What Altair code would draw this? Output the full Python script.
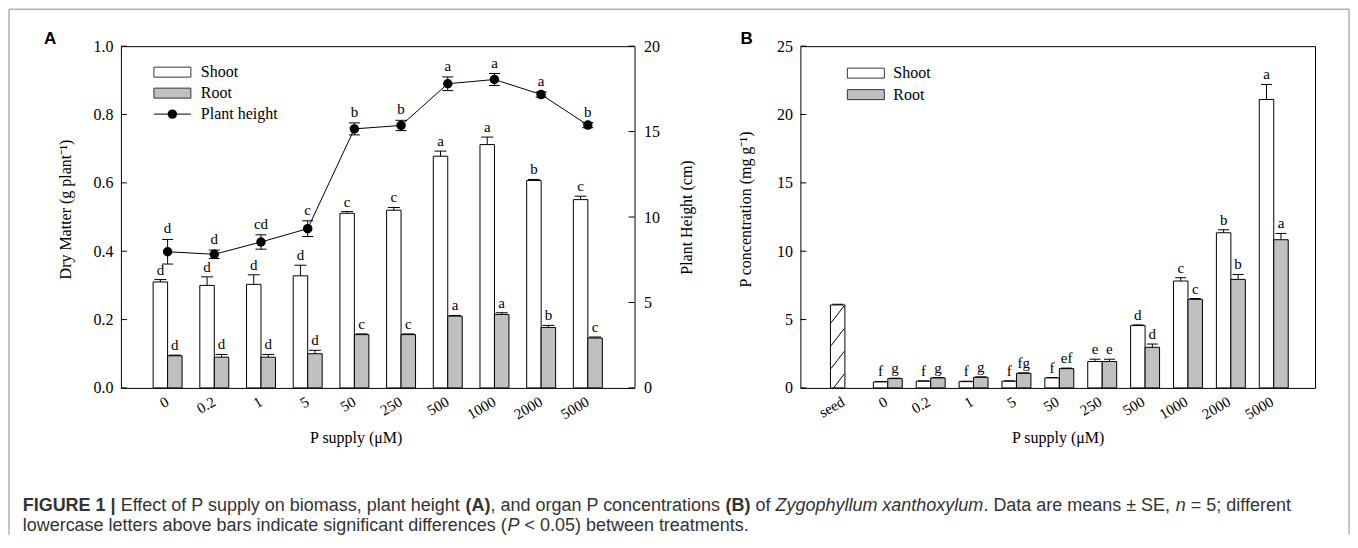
import altair as alt
import pandas as pd

# ---------------- data ----------------
cats_a = ["0", "0.2", "1", "5", "50", "250", "500", "1000", "2000", "5000"]
cats_b = ["seed"] + cats_a
parts = ["Shoot", "Root"]

# Panel A: dry matter (g plant-1)
shoot_dm = [0.310, 0.300, 0.303, 0.328, 0.511, 0.520, 0.678, 0.712, 0.607, 0.551]
shoot_dm_err = [0.007, 0.025, 0.028, 0.031, 0.005, 0.008, 0.015, 0.022, 0.003, 0.010]
shoot_dm_let = ["d", "d", "d", "d", "c", "c", "a", "a", "b", "c"]
root_dm = [0.094, 0.090, 0.090, 0.100, 0.156, 0.156, 0.210, 0.215, 0.177, 0.146]
root_dm_err = [0.002, 0.008, 0.008, 0.010, 0.002, 0.002, 0.002, 0.005, 0.006, 0.003]
root_dm_let = ["d", "d", "d", "d", "c", "c", "a", "a", "b", "c"]

# Panel A: plant height (cm)
height = [7.97, 7.82, 8.54, 9.32, 15.16, 15.36, 17.80, 18.05, 17.17, 15.38]
height_err = [0.72, 0.25, 0.42, 0.46, 0.35, 0.30, 0.40, 0.35, 0.15, 0.15]
height_let = ["d", "d", "cd", "c", "b", "b", "a", "a", "a", "b"]

# Panel B: P concentration (mg g-1)
seed_p = 6.07
seed_p_err = 0.05
shoot_p = [0.44, 0.49, 0.46, 0.49, 0.73, 1.93, 4.56, 7.82, 11.35, 21.10]
shoot_p_err = [0.03, 0.03, 0.03, 0.03, 0.03, 0.17, 0.05, 0.24, 0.22, 1.10]
shoot_p_let = ["f", "f", "f", "f", "f", "e", "d", "c", "b", "a"]
root_p = [0.68, 0.73, 0.78, 1.07, 1.41, 1.93, 2.97, 6.48, 7.94, 10.84]
root_p_err = [0.03, 0.03, 0.03, 0.03, 0.04, 0.17, 0.24, 0.06, 0.36, 0.46]
root_p_let = ["g", "g", "g", "fg", "ef", "e", "d", "c", "b", "a"]

# axis tick values
ticks_dm = [0.0, 0.2, 0.4, 0.6, 0.8, 1.0]
ticks_h = [0, 5, 10, 15, 20]
ticks_p = [0, 5, 10, 15, 20, 25]
seed_hatch = [0.39, 2.05, 3.72, 5.39]

legend_a = ["Shoot", "Root", "Plant height"]
legend_b = ["Shoot", "Root"]

caption_1 = [("FIGURE 1 |", "bold", "normal"),
             (" Effect of P supply on biomass, plant height ", "normal", "normal"),
             ("(A)", "bold", "normal"),
             (", and organ P concentrations ", "normal", "normal"),
             ("(B)", "bold", "normal"),
             (" of ", "normal", "normal"),
             ("Zygophyllum xanthoxylum", "normal", "italic"),
             (". Data are means \u00b1 SE, ", "normal", "normal"),
             ("n", "normal", "italic"),
             (" = 5; different", "normal", "normal")]
caption_2 = [("lowercase letters above bars indicate significant differences (", "normal", "normal"),
             ("P", "normal", "italic"),
             (" < 0.05) between treatments.", "normal", "normal")]

# ---------------- tables ----------------
dm = pd.DataFrame({
    "cat": cats_a * 2,
    "part": ["Shoot"] * len(cats_a) + ["Root"] * len(cats_a),
    "value": shoot_dm + root_dm,
    "err": shoot_dm_err + root_dm_err,
    "letter": shoot_dm_let + root_dm_let,
})
dm["top"] = dm["value"] + dm["err"]

ht = pd.DataFrame({"cat": cats_a, "h": height, "err": height_err, "letter": height_let})
ht["lo"] = ht["h"] - ht["err"]
ht["hi"] = ht["h"] + ht["err"]

pc = pd.DataFrame({
    "cat": ["seed"] + cats_a * 2,
    "part": ["Shoot"] + ["Shoot"] * len(cats_a) + ["Root"] * len(cats_a),
    "kind": ["seed"] + ["Shoot"] * len(cats_a) + ["Root"] * len(cats_a),
    "value": [seed_p] + shoot_p + root_p,
    "err": [seed_p_err] + shoot_p_err + root_p_err,
    "letter": [""] + shoot_p_let + root_p_let,
})
pc["top"] = pc["value"] + pc["err"]
hatch = pd.DataFrame({"cat": "seed", "part": "Shoot", "v": seed_hatch})

SERIF = "Liberation Serif"
SANS = "Liberation Sans"
FRAME = "#8c8c8c"
GREY = "#c0c0c0"

# ---------------- helpers ----------------
REG = {' ': 278, 'a': 556, 'b': 556, 'c': 500, 'd': 556, 'e': 556, 'f': 278, 'g': 556, 'h': 556,
       'i': 222, 'j': 222, 'k': 500, 'l': 222, 'm': 833, 'n': 556, 'o': 556, 'p': 556, 'q': 556,
       'r': 333, 's': 500, 't': 278, 'u': 556, 'v': 500, 'w': 722, 'x': 500, 'y': 500, 'z': 500,
       'A': 667, 'B': 667, 'D': 722, 'E': 667, 'F': 611, 'G': 778, 'I': 278, 'P': 667, 'R': 722,
       'S': 667, 'U': 722, 'Z': 611, '(': 333, ')': 333, ',': 278, '.': 278, ';': 278, '=': 584,
       '<': 584, '\u00b1': 584, '|': 260}
BOLD = dict(REG)
BOLD.update({'A': 722, 'B': 722, 'E': 667, 'F': 611, 'G': 778, 'I': 278, 'R': 722, 'U': 722, '|': 280})
for d in "0123456789":
    REG[d] = 556
    BOLD[d] = 556


def twidth(s, weight, size):
    table = BOLD if weight == "bold" else REG
    return sum(table.get(ch, 556) for ch in s) * size / 1000.0


ONE = [{"k": 0}]


def text_at(t, x, y, size, font, weight="normal", style="normal", align="left",
            baseline="alphabetic", color="black"):
    return alt.Chart(alt.Data(values=[{"t": t}])).mark_text(
        align=align, baseline=baseline, font=font, fontSize=size, fontWeight=weight,
        fontStyle=style, color=color
    ).encode(x=alt.value(x), y=alt.value(y), text="t:N")


def rule_at(x, x2, y, y2, color="black", width=1):
    return alt.Chart(alt.Data(values=ONE)).mark_rule(color=color, strokeWidth=width).encode(
        x=alt.value(x), x2=alt.value(x2), y=alt.value(y), y2=alt.value(y2))


def caption_line(segs, x0, y, size=18):
    out = []
    x = x0
    for s, w, st in segs:
        lead = len(s) - len(s.lstrip(" "))
        shown = s.strip(" ")
        out.append(text_at(shown, x + twidth(" " * lead, w, size), y, size, SANS, w, st,
                           color="#333333"))
        x += twidth(s, w, size)
    return out


def legend_rects(names, x, x2, ys, fills, tx):
    out = []
    for name, y, f in zip(names, ys, fills):
        out.append(alt.Chart(alt.Data(values=ONE)).mark_rect(fill=f, stroke="#333333", strokeWidth=1)
                   .encode(x=alt.value(x), x2=alt.value(x2), y=alt.value(y - 5), y2=alt.value(y + 5)))
        out.append(text_at(name, tx, y, 16, SERIF, baseline="middle"))
    return out


# ---------------- panel A ----------------
WA, WB, H = 514, 515, 342

def x_axis(title_x=None):
    kw = dict(title="P supply (\u03bcM)", labelAngle=330, labelAlign="right", labelBaseline="middle",
              labelPadding=12, ticks=False, tickSize=0, domain=False, labelFontSize=15,
              titleFontSize=16, titleY=50, titleBaseline="middle", titleAlign="center")
    if title_x is not None:
        kw["titleX"] = title_x
    return alt.Axis(**kw)

xA = alt.X("cat:N", sort=cats_a,
           scale=alt.Scale(domain=cats_a, paddingInner=0.38, paddingOuter=0.69),
           axis=x_axis(235))
xo = alt.XOffset("part:N", sort=parts, scale=alt.Scale(domain=parts, paddingInner=0, paddingOuter=0))

axis_dm = alt.Axis(title="Dry Matter (g plant\u207b\u00b9)", values=ticks_dm, format=".1f", ticks=False,
                   tickSize=0, domain=False, labelPadding=8, titleX=-55, titleY=163, titleAngle=270,
                   titleAlign="center", titleBaseline="middle", grid=False)
sc_dm = alt.Scale(domain=[0, 1], nice=False, zero=True)

bars_a = alt.Chart(dm).mark_bar(stroke="black", strokeWidth=1).encode(
    x=xA, xOffset=xo, y=alt.Y("value:Q", scale=sc_dm, axis=axis_dm),
    fill=alt.Fill("part:N", scale=alt.Scale(domain=parts, range=["white", GREY]), legend=None))
err_a = alt.Chart(dm).mark_rule(color="black", strokeWidth=1).encode(
    x=xA, xOffset=xo, y=alt.Y("value:Q", scale=sc_dm, axis=axis_dm), y2="top:Q")
cap_a = alt.Chart(dm).mark_tick(color="black", size=12, thickness=1, opacity=1, orient="horizontal").encode(
    x=xA, xOffset=xo, y=alt.Y("top:Q", scale=sc_dm, axis=axis_dm))
let_a = alt.Chart(dm).mark_text(baseline="bottom", dy=-2, font=SERIF, fontSize=15, color="black").encode(
    x=xA, xOffset=xo, y=alt.Y("top:Q", scale=sc_dm, axis=axis_dm), text="letter:N")
tick_l = alt.Chart(pd.DataFrame({"v": ticks_dm})).mark_rule(color="black").encode(
    y=alt.Y("v:Q", scale=sc_dm, axis=axis_dm), x=alt.value(0), x2=alt.value(6))

deco_a = []
# outer frame
deco_a.append(rule_at(-112, 1229, -37, -37, FRAME))
deco_a.append(rule_at(-112, -112, -37, 489, FRAME))
deco_a.append(rule_at(1229, 1229, -37, 489, FRAME))
# panel letter
deco_a.append(text_at("A", -77, -2, 17, SANS, "bold"))
# legend
deco_a += legend_rects(legend_a[:2], 33, 70, [26, 47], ["white", GREY], 80)
deco_a.append(rule_at(33, 70, 68, 68))
deco_a.append(alt.Chart(alt.Data(values=ONE)).mark_point(filled=True, size=90, color="black", opacity=1)
              .encode(x=alt.value(51.5), y=alt.value(68)))
deco_a.append(text_at(legend_a[2], 80, 68, 16, SERIF, baseline="middle"))
# caption
deco_a += caption_line(caption_1, -98.3, 465)
deco_a += caption_line(caption_2, -98.3, 485)

left_layer = alt.layer(bars_a, err_a, cap_a, let_a, tick_l, *deco_a)

axis_h = alt.Axis(orient="right", title="Plant Height (cm)", values=ticks_h, format="d", ticks=False,
                  tickSize=0, domain=False, labelPadding=9, titleX=52, titleY=171, titleAngle=270,
                  titleAlign="center", titleBaseline="middle", grid=False)
sc_h = alt.Scale(domain=[0, 20], nice=False, zero=True)

line_h = alt.Chart(ht).mark_line(color="black", strokeWidth=1).encode(
    x=xA, y=alt.Y("h:Q", scale=sc_h, axis=axis_h))
err_h = alt.Chart(ht).mark_rule(color="black", strokeWidth=1).encode(
    x=xA, y=alt.Y("lo:Q", scale=sc_h, axis=axis_h), y2="hi:Q")
caplo_h = alt.Chart(ht).mark_tick(color="black", size=11, thickness=1, opacity=1, orient="horizontal").encode(
    x=xA, y=alt.Y("lo:Q", scale=sc_h, axis=axis_h))
caphi_h = alt.Chart(ht).mark_tick(color="black", size=11, thickness=1, opacity=1, orient="horizontal").encode(
    x=xA, y=alt.Y("hi:Q", scale=sc_h, axis=axis_h))
pts_h = alt.Chart(ht).mark_point(filled=True, size=90, color="black", opacity=1).encode(
    x=xA, y=alt.Y("h:Q", scale=sc_h, axis=axis_h))
let_h = alt.Chart(ht).mark_text(baseline="bottom", dy=-3, font=SERIF, fontSize=15, color="black").encode(
    x=xA, y=alt.Y("hi:Q", scale=sc_h, axis=axis_h), text="letter:N")
tick_r = alt.Chart(pd.DataFrame({"v": ticks_h})).mark_rule(color="black").encode(
    y=alt.Y("v:Q", scale=sc_h, axis=axis_h), x=alt.value(WA - 6), x2=alt.value(WA))

right_layer = alt.layer(line_h, err_h, caplo_h, caphi_h, pts_h, let_h, tick_r)

panel_a = alt.layer(left_layer, right_layer).resolve_scale(y="independent").properties(width=WA, height=H)

# ---------------- panel B ----------------
xB = alt.X("cat:N", sort=cats_b,
           scale=alt.Scale(domain=cats_b, paddingInner=0.4, paddingOuter=0.7),
           axis=x_axis())
axis_p = alt.Axis(title="P  concentration (mg g\u207b\u00b9)", values=ticks_p, format="d", ticks=False,
                  tickSize=0, domain=False, labelPadding=8, titleX=-55, titleY=163, titleAngle=270,
                  titleAlign="center", titleBaseline="middle", grid=False)
sc_p = alt.Scale(domain=[0, 25], nice=False, zero=True)

bars_b = alt.Chart(pc).mark_bar(stroke="black", strokeWidth=1).encode(
    x=xB, xOffset=xo, y=alt.Y("value:Q", scale=sc_p, axis=axis_p),
    fill=alt.Fill("kind:N", scale=alt.Scale(domain=["seed", "Shoot", "Root"], range=["white", "white", GREY]),
                  legend=None))
hatch_b = alt.Chart(hatch).mark_point(shape="M-1,1.3L1,-1.3", size=177, filled=False, color="black",
                                      strokeWidth=1, opacity=1, clip=True).encode(
    x=xB, xOffset=xo, y=alt.Y("v:Q", scale=sc_p, axis=axis_p))
err_b = alt.Chart(pc).mark_rule(color="black", strokeWidth=1).encode(
    x=xB, xOffset=xo, y=alt.Y("value:Q", scale=sc_p, axis=axis_p), y2="top:Q")
cap_b = alt.Chart(pc).mark_tick(color="black", size=11, thickness=1, opacity=1, orient="horizontal").encode(
    x=xB, xOffset=xo, y=alt.Y("top:Q", scale=sc_p, axis=axis_p))
let_b = alt.Chart(pc).mark_text(baseline="bottom", dy=-2, font=SERIF, fontSize=15, color="black").encode(
    x=xB, xOffset=xo, y=alt.Y("top:Q", scale=sc_p, axis=axis_p), text="letter:N")
tick_b = alt.Chart(pd.DataFrame({"v": ticks_p})).mark_rule(color="black").encode(
    y=alt.Y("v:Q", scale=sc_p, axis=axis_p), x=alt.value(0), x2=alt.value(6))

deco_b = [text_at("B", -60, -2, 17, SANS, "bold")]
deco_b += legend_rects(legend_b, 47, 84, [27, 48.5], ["white", GREY], 93)

panel_b = alt.layer(bars_b, hatch_b, err_b, cap_b, let_b, tick_b, *deco_b).properties(width=WB, height=H)

chart = alt.hconcat(panel_a, panel_b, spacing=166, bounds="flush").properties(padding=0).configure_view(
    stroke="black", strokeWidth=1
).configure_axis(
    labelFont=SERIF, titleFont=SERIF, labelColor="black", titleColor="black",
    titleFontWeight="normal", grid=False, labelFontSize=16, titleFontSize=16
)

chart.save("out.html", embed_options={"renderer": "svg", "actions": False})
